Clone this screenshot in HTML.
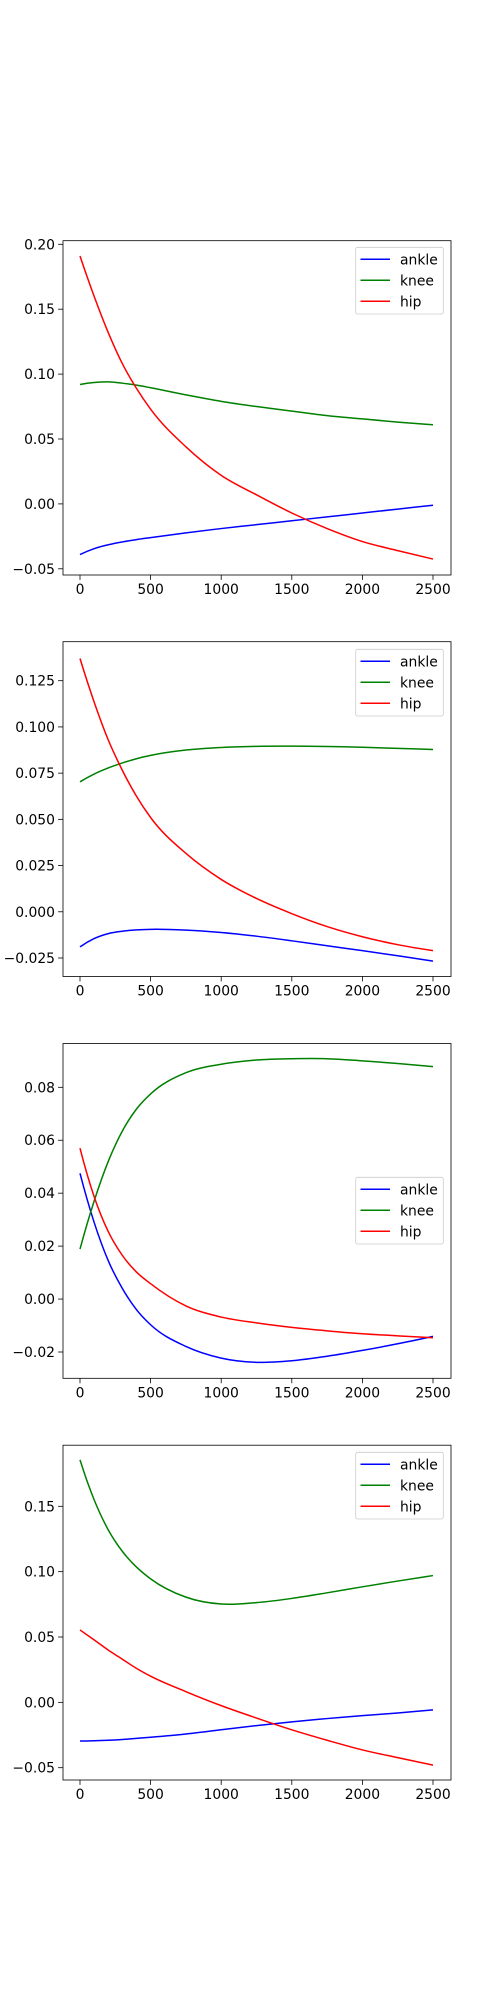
<!DOCTYPE html>
<html><head><meta charset="utf-8"><style>
html,body{margin:0;padding:0;background:#fff;}
svg{display:block;}
text{font-family:"DejaVu Sans","Liberation Sans",sans-serif;font-size:13.9px;fill:#000;}
</style></head><body>
<svg id="fig" width="500" height="2000" viewBox="0 0 500 2000" xmlns="http://www.w3.org/2000/svg"></svg>
<script>
const xVals = [0,100,200,300,400,500,750,1000,1250,1500,1750,2000,2250,2500];
const xTicks = [0,500,1000,1500,2000,2500];
const seriesNames = ["ankle","knee","hip"];
const seriesColors = ["#0000ff","#008000","#ff0000"];

const p1Ankle = [-0.039,-0.0345,-0.0315,-0.0293,-0.0275,-0.026,-0.0223,-0.019,-0.016,-0.013,-0.010,-0.007,-0.004,-0.001];
const p1Knee = [0.092,0.0935,0.094,0.093,0.0915,0.0895,0.084,0.079,0.075,0.0715,0.068,0.0655,0.063,0.061];
const p1Hip = [0.191,0.160,0.132,0.108,0.089,0.073,0.044,0.022,0.007,-0.007,-0.019,-0.029,-0.036,-0.0425];
const p1YTicks = [-0.05,0.00,0.05,0.10,0.15,0.20];
const p1YLabels = ["\u22120.05","0.00","0.05","0.10","0.15","0.20"];

const p2Ankle = [-0.019,-0.0145,-0.0118,-0.0105,-0.0098,-0.0095,-0.0099,-0.0112,-0.0132,-0.0157,-0.0184,-0.021,-0.0238,-0.0267];
const p2Knee = [0.0703,0.0745,0.0778,0.0805,0.0828,0.0846,0.0875,0.0889,0.0895,0.0896,0.0894,0.089,0.0884,0.0878];
const p2Hip = [0.137,0.1135,0.093,0.0765,0.0625,0.051,0.0316,0.0175,0.0072,-0.001,-0.008,-0.0135,-0.0178,-0.021];
const p2YTicks = [-0.025,0.000,0.025,0.050,0.075,0.100,0.125];
const p2YLabels = ["\u22120.025","0.000","0.025","0.050","0.075","0.100","0.125"];

const p3Ankle = [0.0475,0.029,0.0145,0.004,-0.004,-0.0097,-0.0179,-0.0223,-0.0239,-0.0233,-0.0216,-0.0194,-0.0169,-0.0141];
const p3Knee = [0.0189,0.037,0.052,0.0635,0.0718,0.0775,0.0855,0.0887,0.0903,0.0908,0.0908,0.090,0.089,0.0878];
const p3Hip = [0.057,0.0387,0.0255,0.0165,0.0102,0.0058,-0.0026,-0.0068,-0.0090,-0.0107,-0.012,-0.0131,-0.0139,-0.0146];
const p3YTicks = [-0.02,0.00,0.02,0.04,0.06,0.08];
const p3YLabels = ["\u22120.02","0.00","0.02","0.04","0.06","0.08"];

const p4Ankle = [-0.0296,-0.0294,-0.029,-0.0284,-0.0276,-0.0267,-0.0242,-0.021,-0.0178,-0.0149,-0.0124,-0.0102,-0.0081,-0.0058];
const p4Knee = [0.1855,0.155,0.132,0.1155,0.1035,0.0945,0.0805,0.0752,0.0763,0.0795,0.0838,0.0884,0.0928,0.097];
const p4Hip = [0.0554,0.0478,0.040,0.033,0.026,0.020,0.0082,-0.0025,-0.012,-0.021,-0.029,-0.0364,-0.0423,-0.048];
const p4YTicks = [-0.05,0.00,0.05,0.10,0.15];
const p4YLabels = ["\u22120.05","0.00","0.05","0.10","0.15"];

const NS="http://www.w3.org/2000/svg";
const svg=document.getElementById('fig');
function mk(tag,attrs,parent){const e=document.createElementNS(NS,tag);for(const k in attrs)e.setAttribute(k,attrs[k]);(parent||svg).appendChild(e);return e;}

const L=63, R=451;
function xScale(v){return 80+v*(353/2500);}

function smoothPath(pts){
  const n=pts.length, m=[];
  for(let i=0;i<n;i++){
    if(i===0||i===n-1){m.push(0);continue;}
    const h0=pts[i][0]-pts[i-1][0], h1=pts[i+1][0]-pts[i][0];
    const d0=(pts[i][1]-pts[i-1][1])/h0, d1=(pts[i+1][1]-pts[i][1])/h1;
    m.push((d0*h1+d1*h0)/(h0+h1));
  }
  {const h0=pts[1][0]-pts[0][0],d0=(pts[1][1]-pts[0][1])/h0; m[0]=2*d0-m[1];}
  {const h=pts[n-1][0]-pts[n-2][0],d=(pts[n-1][1]-pts[n-2][1])/h; m[n-1]=2*d-m[n-2];}
  let d="M"+pts[0][0].toFixed(2)+","+pts[0][1].toFixed(2);
  for(let i=0;i<n-1;i++){
    const p1=pts[i],p2=pts[i+1],dx=(p2[0]-p1[0])/3;
    d+=" C"+(p1[0]+dx).toFixed(2)+","+(p1[1]+m[i]*dx).toFixed(2)+" "+(p2[0]-dx).toFixed(2)+","+(p2[1]-m[i+1]*dx).toFixed(2)+" "+p2[0].toFixed(2)+","+p2[1].toFixed(2);
  }
  return d;
}

function drawPanel(idx,top,bottom,refV,refY,pxPerUnit,yTicks,yLabels,series,legendTop){
  const g=mk('g',{});
  
  
  const yScale=v=>refY+(refV-v)*pxPerUnit;
  const clipId='clip'+idx;
  const cp=mk('clipPath',{id:clipId},g);
  mk('rect',{x:L,y:top,width:R-L,height:bottom-top},cp);
  const lg=mk('g',{'clip-path':'url(#'+clipId+')'},g);
  series.forEach((s,si)=>{
    const pts=xVals.map((x,i)=>[xScale(x),yScale(s[i])]);
    const p=mk('path',{d:smoothPath(pts),fill:'none',stroke:seriesColors[si],'stroke-width':1.5},lg);
    
    
  });
  const frame=mk('rect',{x:L,y:top,width:R-L,height:bottom-top,fill:'none',stroke:'#000','stroke-width':0.8},g);
  
  
  xTicks.forEach(t=>{
    const x=xScale(t);
    mk('line',{x1:x,y1:bottom,x2:x,y2:bottom+4.9,stroke:'#000','stroke-width':0.8},g);
    const tx=mk('text',{x:x,y:bottom+19,'text-anchor':'middle'},g);
    tx.textContent=String(t);
    
    
  });
  yTicks.forEach((t,i)=>{
    const y=yScale(t);
    mk('line',{x1:L-4.9,y1:y,x2:L,y2:y,stroke:'#000','stroke-width':0.8},g);
    const ty=mk('text',{x:L-8,y:y+5,'text-anchor':'end'},g);
    ty.textContent=yLabels[i];
    
    
  });
  const leg=mk('g',{},g);
  
  
  mk('rect',{x:355.7,y:legendTop,width:87.6,height:66.7,rx:2,fill:'#fff','fill-opacity':0.8,stroke:'#ccc','stroke-width':0.8},leg);
  seriesNames.forEach((n,si)=>{
    const y=legendTop+12+si*21;
    const ln=mk('line',{x1:360.5,y1:y,x2:390,y2:y,stroke:seriesColors[si],'stroke-width':1.5},leg);
    
    
    const t=mk('text',{x:400,y:y+5},leg);
    t.textContent=n;
    
    
  });
}

drawPanel(1,240.7,575,0.20,244.3,1298,p1YTicks,p1YLabels,[p1Ankle,p1Knee,p1Hip],247.3);
drawPanel(2,641.7,976.5,0.125,680.7,1848.7,p2YTicks,p2YLabels,[p2Ankle,p2Knee,p2Hip],649.3);
drawPanel(3,1043.5,1378.3,0.08,1087.3,2647,p3YTicks,p3YLabels,[p3Ankle,p3Knee,p3Hip],1177.3);
drawPanel(4,1445.2,1780,0.15,1506.3,1307,p4YTicks,p4YLabels,[p4Ankle,p4Knee,p4Hip],1452.3);
</script>
</body></html>
